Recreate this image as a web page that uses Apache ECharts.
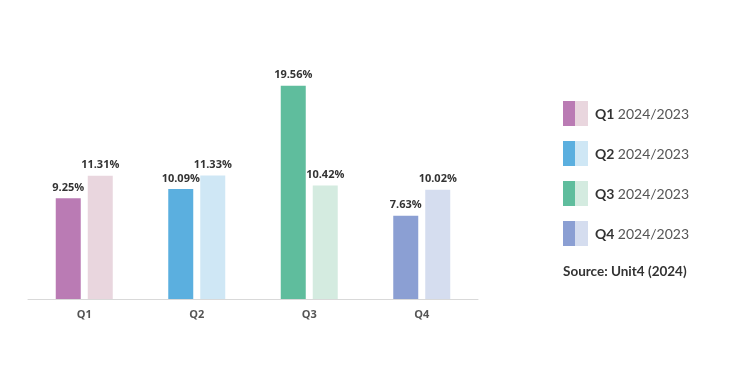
<!DOCTYPE html>
<html><head><meta charset="utf-8">
<script src="https://cdn.jsdelivr.net/npm/echarts@6/dist/echarts.min.js"></script>
<style>html,body{margin:0;padding:0;background:#fff}#c{width:750px;height:375px}</style>
</head><body><div id="c"></div>
<script>
var categories = ['Q1', 'Q2', 'Q3', 'Q4'];
var values2024 = [9.25, 10.09, 19.56, 7.63];
var values2023 = [11.31, 11.33, 10.42, 10.02];
var colors2024 = ['#ba7bb4', '#5bafdf', '#5fbd9d', '#8b9fd3'];
var colors2023 = ['#e9d6de', '#cfe7f5', '#d4ebe0', '#d5ddef'];
var legendYears = '2024/2023';
var sourceText = 'Source: Unit4 (2024)';

var chart = echarts.init(document.getElementById('c'));
function mk(vals, cols) {
  return vals.map(function (v, i) { return { value: v, itemStyle: { color: cols[i] } }; });
}
var labelStyle = {
  show: true, position: 'top', distance: 5,
  fontFamily: 'Open Sans', fontWeight: 'bold', fontSize: 11, color: '#333',
  formatter: function (p) { return p.value.toFixed(2) + '%'; }
};
var graphics = [];
categories.forEach(function (c, i) {
  var y = 101 + i * 40;
  graphics.push({ type: 'rect', left: 563, top: y, shape: { width: 12, height: 25 }, style: { fill: colors2024[i] } });
  graphics.push({ type: 'rect', left: 575, top: y, shape: { width: 13, height: 25 }, style: { fill: colors2023[i] } });
  graphics.push({ type: 'text', left: 595, top: y + 6, style: {
    text: '{b|' + c + '} {n|' + legendYears + '}',
    rich: {
      b: { fontFamily: 'Lato', fontWeight: 'bold', fontSize: 14, fill: '#333' },
      n: { fontFamily: 'Lato', fontSize: 14, fill: '#555' }
    }
  } });
});
graphics.push({ type: 'text', left: 563, top: 265, style: {
  text: sourceText, fontFamily: 'Lato', fontWeight: 'bold', fontSize: 13.5, fill: '#333'
} });

chart.setOption({
  animation: false,
  grid: { left: 28, right: 272, top: 81, bottom: 76 },
  xAxis: {
    type: 'category', data: categories,
    axisLine: { lineStyle: { color: '#d9d9d9', width: 1 } },
    axisTick: { show: false },
    axisLabel: { fontFamily: 'Open Sans', fontWeight: 'bold', fontSize: 11, color: '#555', margin: 10 }
  },
  yAxis: { type: 'value', min: 0, max: 20, show: false, splitLine: { show: false } },
  series: [
    { type: 'bar', name: '2024', data: mk(values2024, colors2024), barWidth: 25, barGap: '28%', label: labelStyle },
    { type: 'bar', name: '2023', data: mk(values2023, colors2023), barWidth: 25, barGap: '28%', label: labelStyle }
  ],
  graphic: graphics
});
</script></body></html>
